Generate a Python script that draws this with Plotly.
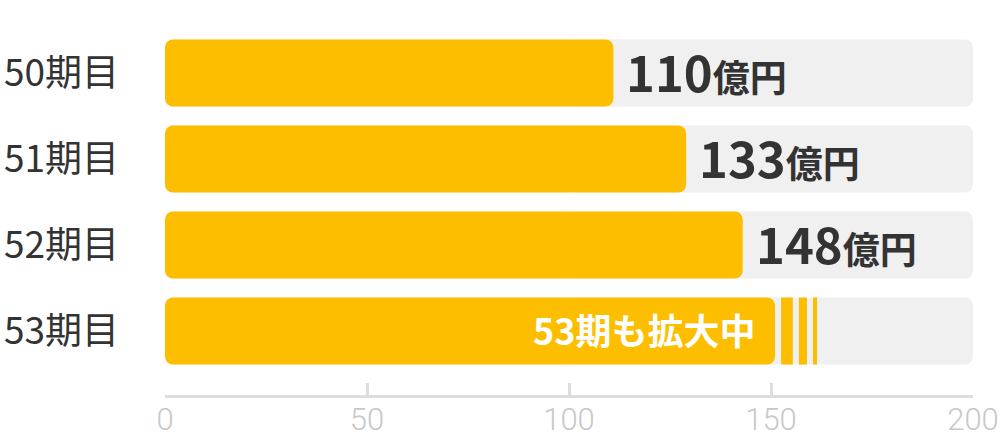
import plotly.graph_objects as go

# 決算期ごとの売上
periods = ["50期目", "51期目", "52期目", "53期目"]
bar_values = [111, 129, 143, 151]          # 描画上のバー長さ
value_labels = ["110", "133", "148", None]  # 表示ラベル
unit = "億円"
note_53 = "53期も拡大中"
stripe_starts = [152.5, 156.9, 160.4]
stripe_widths = [2.9, 2.0, 1.0]
axis_max = 200
tick_vals = [0, 50, 100, 150, 200]

YELLOW = "#fdbe00"
TRACK = "#f0f0f0"
TEXT = "#333333"
FONT = "Noto Sans CJK JP"

rows = list(range(len(periods)))
fig = go.Figure()

# 背景トラック (両端を丸めるため中央から2本)
half = axis_max / 2
for direction in (1, -1):
    fig.add_trace(go.Bar(
        y=rows, x=[direction * half] * len(rows), base=[half] * len(rows),
        orientation="h", marker=dict(color=TRACK, cornerradius=8, line_width=0),
        width=0.78, hoverinfo="skip", showlegend=False,
    ))

# 実績バー (左端を丸める)
fig.add_trace(go.Bar(
    y=rows, x=[-v for v in bar_values], base=bar_values,
    orientation="h", marker=dict(color=YELLOW, cornerradius=8, line_width=0),
    width=0.78, showlegend=False,
))

# 53期のストライプ
fig.add_trace(go.Bar(
    y=[rows[-1]] * len(stripe_starts), x=stripe_widths, base=stripe_starts,
    orientation="h", marker=dict(color=YELLOW, line_width=0),
    width=0.78, showlegend=False,
))

for r, v, lab in zip(rows, bar_values, value_labels):
    if lab is None:
        continue
    fig.add_annotation(
        x=v, y=r, xanchor="left", yanchor="middle", xshift=11, yshift=3,
        showarrow=False,
        text=f"<b><span style='font-size:49px'>{lab}</span>"
             f"<span style='font-size:37px'>{unit}</span></b>",
        font=dict(family=FONT, color=TEXT),
    )

fig.add_annotation(
    x=bar_values[-1], y=rows[-1], xanchor="right", yanchor="middle",
    xshift=-18, yshift=2,
    showarrow=False, text=f"<b>{note_53}</b>",
    font=dict(family=FONT, color="white", size=36),
)

fig.update_layout(
    barmode="overlay",
    width=1000, height=438,
    margin=dict(l=165, r=27, t=30, b=43),
    paper_bgcolor="white", plot_bgcolor="white",
    font=dict(family=FONT, color=TEXT),
)
fig.update_xaxes(
    range=[0, axis_max], tickvals=tick_vals, showgrid=False, zeroline=False,
    automargin=False, ticklabeloverflow="allow", ticklabelstandoff=-5,
    showline=True, linecolor="#dddddd", linewidth=3,
    ticks="inside", ticklen=12, tickwidth=3, tickcolor="#dddddd",
    tickfont=dict(family="Roboto", size=31, color="#c8c8c8", weight=300),
)
fig.update_yaxes(
    range=[3.744, -0.5], tickvals=rows, ticktext=periods, automargin=False,
    showgrid=False, zeroline=False, showline=False, ticks="",
    ticklabelstandoff=45, tickfont=dict(family=FONT, size=37, color=TEXT),
)

# ページ既定の余白を消して図を左上に揃える
fig.write_html("out.html", config={"displayModeBar": False},
               post_script="document.body.style.margin='0';")
